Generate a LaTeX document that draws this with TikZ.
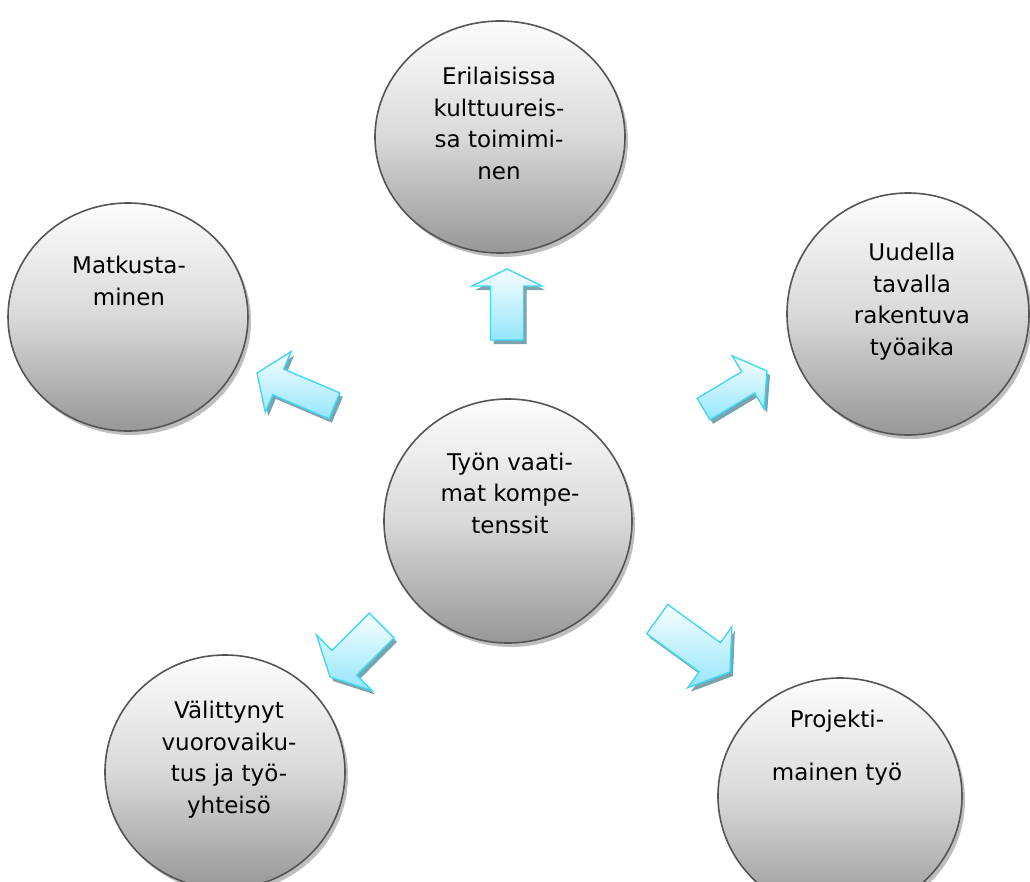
\documentclass[tikz,border=0pt]{standalone}
\usepackage{fontspec}
\setmainfont{DejaVu Sans}
\usetikzlibrary{calc,shapes.geometric}

\definecolor{pallonreuna}{HTML}{555555}
\definecolor{palloyla}{HTML}{FDFDFD}
\definecolor{pallokeski}{HTML}{D9D9D9}
\definecolor{palloala}{HTML}{979797}
\definecolor{pallonvarjo}{HTML}{BEBEBE}
\definecolor{nuolenreuna}{HTML}{42D7F8}
\definecolor{nuoliyla}{HTML}{F7FEFF}
\definecolor{nuoliala}{HTML}{94E6FC}
\definecolor{nuolenvarjo}{HTML}{7AA3AB}

\begin{document}
\begin{tikzpicture}[x=1pt,y=-1pt,
		pallo/.style={ellipse, draw=pallonreuna, line width=1.6pt, top color=palloyla, bottom color=palloala, middle color=pallokeski, inner sep=0pt},
		varjo/.style={fill=pallonvarjo},
		teksti/.style={align=center, anchor=base, inner sep=0pt, font=\fontsize{23}{31.5}\selectfont},
		nuoli/.style={draw=nuolenreuna, line width=1.4pt, line join=miter, top color=nuoliyla, bottom color=nuoliala},
		nuolivarjo/.style={fill=nuolenvarjo}]
				\useasboundingbox (0,0) rectangle (1030,881);
				\clip (0,0) rectangle (1030,881);
				
				\foreach \n/\x/\y/\rx/\ry in {kulttuuri/500/137/125/116, matkustus/128/317/120/114, tyoaika/908/314/121/121, kompetenssit/508/521/124/122, vuorovaikutus/225/772/120/117, projekti/840/796/122/118}
				{
					\fill[varjo] (\x+3,\y+4) ellipse ({\rx} and {\ry});
					\node[pallo, minimum width=2*\rx, minimum height=2*\ry] (\n) at (\x,\y) {};
				}
				
				\node[teksti] (kulttuuriteksti) at ($(kulttuuri)+(-1,42)$) {Erilaisissa\\kulttuureis-\\sa toimimi-\\nen};
				\node[teksti] (matkustusteksti) at ($(matkustus)+(1,-12)$) {Matkusta-\\minen};
				\node[teksti] (tyoaikateksti) at ($(tyoaika)+(4,41)$) {Uudella\\tavalla\\rakentuva\\työaika};
				\node[teksti] (kompetenssiteksti) at ($(kompetenssit)+(2,12)$) {Työn vaati-\\mat kompe-\\tenssit};
				\node[teksti] (vuorovaikutusteksti) at ($(vuorovaikutus)+(4,41)$) {Välittynyt\\vuorovaiku-\\tus ja työ-\\yhteisö};
				\node[teksti] (projektiteksti) at ($(projekti)+(-3,-16)$) {Projekti-\\[21pt]mainen työ};
				
				\foreach \x/\y/\a/\l/\s/\h/\k in {507/269/90/71/16.5/35/17, 257/373/157/84/14/33/23, 767/371/31/74/12.5/31/22, 330/677/225/73/17.5/39/20, 730/672/-36/90/18/37.5/25}
				{
					\fill[nuolivarjo, shift={(\x+3,\y+4)}, rotate=\a] (0,0) -- (-\k,\h) -- (-\k,\s) -- (-\l,\s) -- (-\l,-\s) -- (-\k,-\s) -- (-\k,-\h) -- cycle;
					\draw[nuoli, shift={(\x,\y)}, rotate=\a] (0,0) -- (-\k,\h) -- (-\k,\s) -- (-\l,\s) -- (-\l,-\s) -- (-\k,-\s) -- (-\k,-\h) -- cycle;
				}
			\end{tikzpicture}
\end{document}
